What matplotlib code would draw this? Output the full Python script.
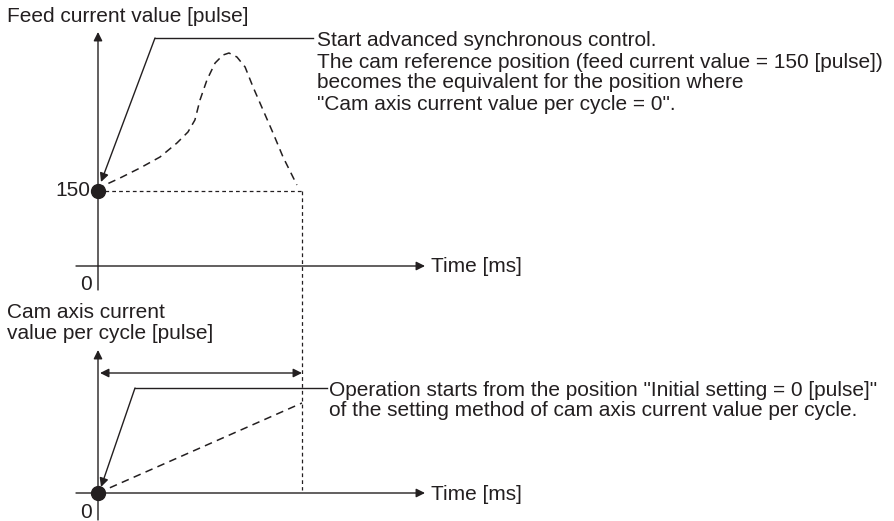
import matplotlib
matplotlib.use("Agg")
import matplotlib.pyplot as plt

# ---------------- data ----------------
# Top chart: feed current value [pulse] vs time (one cam cycle = 10 time units)
feed_t = [0.0, 0.34, 1.08, 2.06, 3.04, 3.87, 4.41, 4.75, 5.0, 5.34, 5.74, 6.13, 6.42,
          6.81, 7.21, 7.6, 8.09, 8.58, 9.07, 9.75]
feed_v = [150, 162, 176, 196, 218, 246, 268, 292, 332, 372, 406, 422, 426,
          418, 398, 358, 312, 266, 218, 162]
start_value = 150
cycle_end = 10.0
# Bottom chart: cam axis current value per cycle
cam_t = [0.0, 10.0]
cam_v = [0, 90]

top_title = "Feed current value [pulse]"
bottom_title = ["Cam axis current", "value per cycle [pulse]"]
xlabel = "Time [ms]"
note_top = ["Start advanced synchronous control.",
            "The cam reference position (feed current value = 150 [pulse])",
            "becomes the equivalent for the position where",
            "\"Cam axis current value per cycle = 0\"."]
note_bottom = ["Operation starts from the position \"Initial setting = 0 [pulse]\"",
               "of the setting method of cam axis current value per cycle."]

# ---------------- layout ----------------
W, H = 894, 521
C = "#231f20"
FS = 15
plt.rcParams['font.family'] = ['Liberation Sans', 'DejaVu Sans']

fig = plt.figure(figsize=(W / 100, H / 100), dpi=100)

# x mapping: t=0 at px 98, t=10 at px 302
sx = (302 - 98) / 10.0
xlim = (-98 / sx, (W - 98) / sx)

axT = fig.add_axes([0, 0, 1, 1])
axT.set_xlim(*xlim)
axT.set_ylim((266 - H) * 2, 266 * 2)
axT.axis("off")
axB = fig.add_axes([0, 0, 1, 1])
axB.set_xlim(*xlim)
axB.set_ylim(493 - H, 493)
axB.axis("off")
axB.patch.set_alpha(0)


def tx(px):
    return (px - 98) / sx


def tyT(py):
    return (266 - py) * 2


def tyB(py):
    return 493 - py


def ftext(px, py, s, **kw):
    fig.text(px / W, 1 - py / H, s, fontsize=FS, color=C, **kw)


arrow_kw = dict(arrowstyle="-|>", mutation_scale=13, lw=1.0, color=C, shrinkA=0, shrinkB=0)

# ---- top chart axes ----
axT.annotate("", xy=(0, tyT(32)), xytext=(0, tyT(290)), arrowprops=arrow_kw)
axT.annotate("", xy=(tx(425), 0), xytext=(tx(76), 0), arrowprops=arrow_kw)
ftext(431, 267, xlabel, va="center", ha="left")
ftext(92, 285, "0", va="center", ha="right")
ftext(90, 191, str(start_value), va="center", ha="right")
ftext(7, 17, top_title, va="center", ha="left")

# cam curve
axT.plot(feed_t, feed_v, color=C, lw=1.1, ls=(0, (5, 3.5)))
axT.plot([0, cycle_end], [start_value, start_value], color=C, lw=0.9, ls=(0, (3, 2.5)))
axT.plot([0], [start_value], "o", color=C, ms=10, zorder=5)

# leader top
axT.plot([tx(155), tx(313)], [tyT(38), tyT(38)], color=C, lw=1.0)
axT.annotate("", xy=(tx(101), tyT(182)), xytext=(tx(155), tyT(38)), arrowprops=arrow_kw)
for i, line in enumerate(note_top):
    ftext(317, 41 + i * 21, line, va="center", ha="left")

# vertical dashed line spanning both charts
axT.plot([cycle_end, cycle_end], [start_value, tyT(490)], color=C, lw=0.9, ls=(0, (3, 2.5)))

# ---- bottom chart ----
axB.annotate("", xy=(0, tyB(350)), xytext=(0, tyB(520)), arrowprops=arrow_kw)
axB.annotate("", xy=(tx(425), 0), xytext=(tx(76), 0), arrowprops=arrow_kw)
ftext(431, 494, xlabel, va="center", ha="left")
ftext(92, 512, "0", va="center", ha="right")
for i, line in enumerate(bottom_title):
    ftext(7, 312 + i * 21.5, line, va="center", ha="left")

axB.annotate("", xy=(0.1, tyB(373)), xytext=(cycle_end, tyB(373)),
             arrowprops=dict(arrowstyle="<|-|>", mutation_scale=13, lw=1.0, color=C,
                             shrinkA=0, shrinkB=0))
axB.plot(cam_t, cam_v, color=C, lw=1.1, ls=(0, (5, 3.5)))
axB.plot([0], [0], "o", color=C, ms=10, zorder=5)

axB.plot([tx(135), tx(327)], [tyB(388), tyB(388)], color=C, lw=1.0)
axB.annotate("", xy=(tx(101), tyB(487)), xytext=(tx(135), tyB(388)), arrowprops=arrow_kw)
for i, line in enumerate(note_bottom):
    ftext(329, 390 + i * 21, line, va="center", ha="left")

fig.savefig("out.png", dpi=100)
